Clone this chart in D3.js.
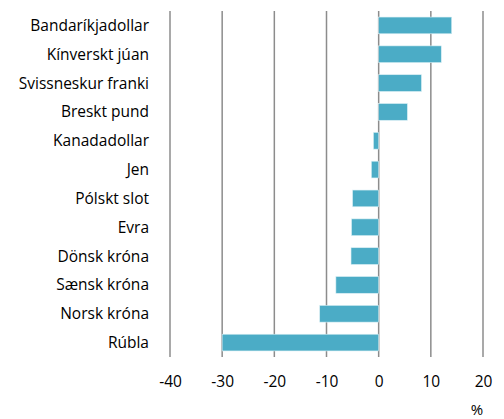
<!DOCTYPE html>
<html>
<head>
<meta charset="utf-8">
<script src="https://cdn.jsdelivr.net/npm/d3@7"></script>
<style>
  body { margin: 0; background: #fff; }
  text { font-family: "Open Sans", sans-serif; fill: #000; }
</style>
</head>
<body>
<div id="chart"></div>
<script>
const categories = ["Bandaríkjadollar", "Kínverskt júan", "Svissneskur franki", "Breskt pund",
    "Kanadadollar", "Jen", "Pólskt slot", "Evra", "Dönsk króna", "Sænsk króna", "Norsk króna", "Rúbla"];
const values = [14.0, 12.0, 8.2, 5.5, -1.0, -1.4, -5.0, -5.2, -5.3, -8.2, -11.3, -30.0];
const xTicks = [-40, -30, -20, -10, 0, 10, 20];
const unitLabel = "%";

const width = 504, height = 419;
const margin = { top: 11, right: 21, bottom: 62, left: 170 };

const svg = d3.select("#chart")
    .append("svg")
    .attr("width", width)
    .attr("height", height);

const x = d3.scaleLinear()
    .domain([-40, 20])
    .range([margin.left, width - margin.right]);

const y = d3.scaleBand()
    .domain(categories)
    .range([margin.top, height - margin.bottom])
    .paddingInner(0.42)
    .paddingOuter(0.21);

// vertical grid lines
svg.append("g")
    .selectAll("line")
    .data(xTicks)
    .enter().append("line")
    .attr("x1", d => x(d)).attr("x2", d => x(d))
    .attr("y1", margin.top).attr("y2", height - margin.bottom)
    .style("stroke", "#8c8c8c")
    .style("stroke-width", "1.5px");

svg.append("g")
    .selectAll("rect")
    .data(values)
    .enter().append("rect")
    .attr("x", d => x(Math.min(0, d)))
    .attr("y", (d, i) => y(categories[i]))
    .attr("width", d => Math.abs(x(d) - x(0)))
    .attr("height", y.bandwidth())
    .style("fill", "#4bacc6")
    .style("stroke", "#d8eef4")
    .style("stroke-width", "0.6px");

// category labels
svg.append("g")
    .selectAll("text")
    .data(categories)
    .enter().append("text")
    .attr("x", margin.left - 21)
    .attr("y", d => y(d) + y.bandwidth() / 2)
    .attr("dy", "0.35em")
    .attr("text-anchor", "end")
    .style("font-size", "15.5px")
    .text(d => d);

const axis = d3.axisBottom(x)
    .tickValues(xTicks)
    .tickFormat(d => String(d))
    .tickSize(0)
    .tickPadding(19);

svg.append("g")
    .attr("transform", `translate(0, ${height - margin.bottom})`)
    .call(axis)
    .call(g => g.select(".domain").remove())
    .selectAll("text")
    .style("font-family", "'Open Sans', sans-serif")
    .style("font-size", "15.5px")
    .style("fill", "#000");

svg.append("text")
    .attr("x", 477)
    .attr("y", 410)
    .attr("dy", "0.35em")
    .attr("text-anchor", "middle")
    .style("font-size", "15px")
    .text(unitLabel);
</script>
</body>
</html>
